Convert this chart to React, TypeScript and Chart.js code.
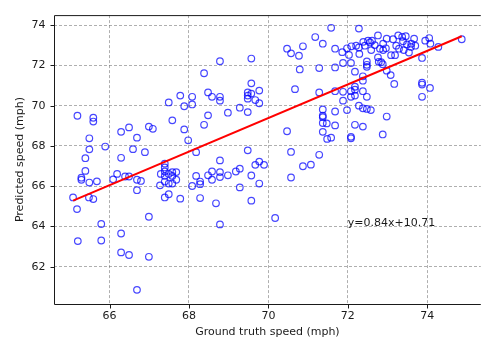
import React, { useEffect, useRef } from "react";
import { Chart, registerables } from "chart.js";

Chart.register(...registerables);

// Ground truth speed (mph) of each sample
const groundTruth: number[] = [
  65.19, 65.59, 65.59, 65.49, 65.49, 65.39, 65.89, 65.39, 65.29, 65.29,
  65.49, 65.68, 65.08, 65.48, 65.59, 65.18, 65.2, 65.79, 65.79, 66.29,
  66.29, 66.49, 66.69, 66.99, 66.99, 66.69, 66.29, 66.49, 66.69, 66.59,
  66.89, 66.29, 66.99, 67.09, 67.49, 67.78, 68.08, 68.08, 67.88, 67.58,
  67.88, 67.98, 68.18, 66.19, 66.09, 66.39, 66.49, 66.69, 66.79, 67.39,
  67.39, 67.39, 67.29, 67.39, 67.49, 67.58, 67.68, 67.58, 67.68, 67.27,
  67.39, 67.49, 67.58, 67.39, 67.49, 67.78, 68.18, 68.08, 68.28, 68.28,
  68.28, 68.68, 68.78, 69.28, 68.48, 68.58, 68.58, 68.78, 68.78, 68.98,
  69.18, 69.28, 69.57, 69.77, 69.57, 70.17, 68.78, 69.48, 70.57, 71.28,
  70.87, 71.07, 70.57, 69.77, 69.67, 69.89, 68.38, 68.48, 68.58, 68.78,
  68.78, 68.78, 68.48, 68.38, 68.98, 69.28, 69.48, 69.57, 69.57, 69.48,
  69.48, 69.48, 69.57, 69.67, 69.77, 69.77, 70.47, 70.57, 70.77, 70.87,
  71.37, 70.79, 71.28, 70.67, 71.28, 71.37, 71.37, 71.37, 71.37, 71.37,
  70.47, 71.58, 72.28, 71.18, 71.68, 71.68, 71.88, 72.08, 72.18, 72.38,
  72.38, 72.48, 72.48, 72.48, 72.78, 72.88, 72.98, 73.08, 73.17, 73.87,
  73.87, 73.87, 74.07, 73.87, 71.68, 71.88, 72.08, 72.18, 72.18, 72.38,
  72.08, 72.18, 72.48, 71.88, 71.98, 71.68, 72.28, 72.38, 72.48, 72.58,
  71.47, 71.68, 72.18, 72.38, 72.98, 72.88, 71.48, 71.58, 72.08, 72.08,
  71.86, 71.98, 72.09, 72.03, 72.21, 72.28, 72.29, 72.39, 72.43, 72.51,
  72.56, 72.61, 72.59, 72.68, 72.76, 72.81, 72.89, 72.89, 72.98, 72.96,
  73.09, 73.19, 73.14, 73.22, 73.29, 73.27, 73.37, 73.39, 73.41, 73.46,
  73.49, 73.54, 73.59, 73.6, 73.67, 73.7, 73.95, 74.05, 74.08, 74.28,
  74.87, 72.76, 72.84,
];

// Predicted speed (mph) of each sample
const predicted: number[] = [
  69.5, 69.4, 69.21, 68.38, 67.83, 67.39, 67.97, 66.76, 66.42, 66.32,
  66.18, 66.24, 65.44, 65.44, 65.36, 64.86, 63.27, 64.12, 63.3, 63.65,
  62.71, 62.58, 60.85, 64.48, 62.49, 65.8, 68.7, 68.92, 68.41, 67.84,
  67.69, 67.41, 68.96, 68.85, 70.16, 70.5, 70.44, 70.06, 69.97, 69.27,
  68.82, 68.28, 67.69, 66.61, 66.34, 66.48, 66.48, 66.32, 66.26, 67.12,
  66.93, 66.73, 66.61, 66.51, 66.61, 66.7, 66.7, 66.51, 66.32, 66.04,
  66.23, 66.13, 66.13, 65.44, 65.6, 65.38, 66.51, 66.01, 66.1, 66.23,
  65.41, 65.15, 64.1, 65.94, 66.54, 66.73, 66.32, 66.7, 66.45, 66.54,
  66.73, 66.87, 66.53, 66.13, 65.28, 64.42, 67.28, 67.78, 67.7, 67.56,
  66.99, 67.07, 66.43, 67.22, 67.06, 67.06, 71.61, 70.66, 70.44, 72.21,
  70.44, 70.25, 69.52, 69.05, 69.65, 69.9, 69.68, 72.34, 71.11, 70.66,
  70.5, 70.35, 70.6, 70.28, 70.75, 70.12, 72.83, 72.6, 72.48, 72.95,
  73.08, 71.8, 71.87, 70.82, 70.66, 69.81, 69.5, 69.43, 69.14, 68.7,
  68.73, 73.87, 73.83, 73.41, 72.83, 71.9, 72.12, 72.12, 71.69, 71.46,
  71.24, 72.2, 72.03, 71.93, 72.18, 72.06, 71.74, 71.52, 71.08, 72.37,
  71.14, 71.05, 70.88, 70.44, 70.72, 70.69, 70.72, 70.79, 70.94, 70.72,
  70.44, 70.5, 70.44, 70.25, 69.78, 69.71, 70.0, 69.87, 69.84, 69.78,
  69.12, 69.02, 69.05, 68.96, 69.46, 68.57, 68.35, 68.41, 68.45, 68.38,
  72.66, 72.85, 72.95, 72.52, 72.98, 72.89, 72.57, 73.17, 72.98, 73.23,
  73.14, 73.23, 72.76, 73.01, 73.49, 72.83, 73.08, 72.76, 73.33, 72.85,
  72.51, 72.51, 73.3, 72.98, 72.83, 73.49, 73.42, 73.2, 72.76, 73.45,
  73.04, 72.64, 72.92, 73.08, 73.33, 72.98, 73.23, 73.36, 73.08, 72.92,
  73.3, 72.4, 72.16,
];

// Fitted line, endpoints as drawn in the picture
const fitX: number[] = [65.08, 74.87];
const fitY: number[] = [65.28, 73.45];
const fitLabel = "y=0.84x+10.71";
const fitLabelAt: [number, number] = [72, 64];

const xTicks: number[] = [66, 68, 70, 72, 74];
const yTicks: number[] = [62, 64, 66, 68, 70, 72, 74];
const xTitle = "Ground truth speed (mph)";
const yTitle = "Predicted speed (mph)";

const FONT = "'DejaVu Sans', sans-serif";
const INK = "#1a1a1a";

const framePlugin = {
  id: "frame",
  afterDraw(chart: any) {
    const { ctx, chartArea, scales } = chart;
    const { left, right, top, bottom } = chartArea;
    ctx.save();
    ctx.strokeStyle = INK;
    ctx.lineWidth = 1;
    ctx.setLineDash([]);
    ctx.beginPath();
    ctx.moveTo(left + 0.5, top + 0.5);
    ctx.lineTo(left + 0.5, bottom + 0.5);
    ctx.lineTo(right, bottom + 0.5);
    ctx.moveTo(left + 0.5, top + 0.5);
    ctx.lineTo(right, top + 0.5);
    // tick marks
    for (const v of xTicks) {
      const px = Math.round(scales.x.getPixelForValue(v)) + 0.5;
      ctx.moveTo(px, bottom + 0.5);
      ctx.lineTo(px, bottom + 4.5);
    }
    for (const v of yTicks) {
      const py = Math.round(scales.y.getPixelForValue(v)) + 0.5;
      ctx.moveTo(left + 0.5, py);
      ctx.lineTo(left - 3.5, py);
    }
    ctx.stroke();
    // fit equation
    ctx.fillStyle = INK;
    ctx.font = `11px ${FONT}`;
    ctx.textAlign = "left";
    ctx.textBaseline = "alphabetic";
    ctx.fillText(
      fitLabel,
      scales.x.getPixelForValue(fitLabelAt[0]),
      scales.y.getPixelForValue(fitLabelAt[1])
    );
    ctx.restore();
  },
};

export default function App() {
  const ref = useRef<HTMLCanvasElement | null>(null);

  useEffect(() => {
    if (!ref.current) return;
    const points = groundTruth.map((x, i) => ({ x, y: predicted[i] }));
    const line = fitX.map((x, i) => ({ x, y: fitY[i] }));
    const grid = {
      color: "rgba(110,110,110,0.55)",
      lineWidth: 1,
      drawTicks: false,
      drawOnChartArea: true,
    };
    const chart = new Chart(ref.current, {
      type: "scatter",
      data: {
        datasets: [
          {
            data: line,
            showLine: true,
            borderColor: "#ff0000",
            borderWidth: 2,
            pointRadius: 0,
            order: 0,
          } as any,
          {
            data: points,
            showLine: false,
            pointStyle: "circle",
            pointRadius: 3.3,
            pointBorderWidth: 1.2,
            borderColor: "rgba(0,0,255,0.72)",
            backgroundColor: "rgba(0,0,0,0)",
            order: 1,
          } as any,
        ],
      },
      options: {
        responsive: false,
        animation: false,
        devicePixelRatio: 1,
        layout: { padding: { top: 2, right: 0, bottom: 0, left: 0 } },
        plugins: { legend: { display: false }, tooltip: { enabled: false } },
        scales: {
          x: {
            type: "linear",
            min: 64.6,
            max: 75.35,
            afterBuildTicks: (s: any) => {
              s.ticks = xTicks.map((value) => ({ value }));
            },
            afterFit: (s: any) => {
              s.height = 43;
            },
            ticks: {
              font: { family: FONT, size: 11 },
              color: INK,
              padding: 6,
              maxRotation: 0,
              autoSkip: false,
            },
            grid,
            border: { display: false, dash: [3, 2] },
            title: {
              display: true,
              text: xTitle,
              font: { family: FONT, size: 11 },
              color: INK,
              padding: { top: 0, bottom: 8.4 },
            },
          },
          y: {
            type: "linear",
            min: 60.146,
            max: 74.5,
            afterBuildTicks: (s: any) => {
              s.ticks = yTicks.map((value) => ({ value }));
            },
            afterFit: (s: any) => {
              s.width = 54;
            },
            ticks: {
              font: { family: FONT, size: 11 },
              color: INK,
              padding: 8.5,
              autoSkip: false,
            },
            grid,
            border: { display: false, dash: [3, 2] },
            title: {
              display: true,
              text: yTitle,
              font: { family: FONT, size: 11 },
              color: INK,
              padding: { top: 13.4, bottom: 0 },
            },
          },
        },
      } as any,
      plugins: [framePlugin],
    });
    return () => chart.destroy();
  }, []);

  return (
    <div
      style={{
        position: "fixed",
        left: 0,
        top: 0,
        width: 486,
        height: 347,
        overflow: "hidden",
        background: "#fff",
      }}
    >
      <canvas ref={ref} width={486} height={347} style={{ width: 486, height: 347, display: "block" }} />
    </div>
  );
}
